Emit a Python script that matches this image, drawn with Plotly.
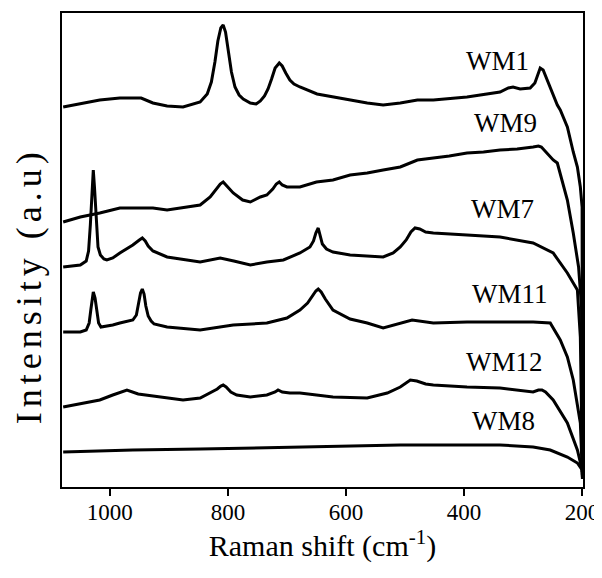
import plotly.graph_objects as go

# Raman shift (cm-1) / intensity (a.u., offset stacked)
wm1_x = [1079, 1050, 1017, 983, 947, 927, 903, 876, 847, 835, 828, 822, 817, 812, 808, 804, 799, 794,
         788, 781, 774, 762, 752, 745, 738, 732, 726, 720, 713, 708, 702, 695, 688, 678, 649, 622,
         593, 564, 537, 508, 479, 452, 395, 339, 325, 317, 305, 288, 280, 275, 271, 266, 260, 254,
         242, 237, 225, 215, 208, 203, 200, 199.5]
wm1_y = [380, 383, 387, 389, 389, 384, 381, 380, 385, 393, 405, 425, 446, 459, 462, 455, 435, 415,
         400, 392, 388, 384, 383, 386, 391, 398, 408, 419, 424, 421, 414, 407, 403, 400, 393, 390,
         387, 384, 382, 384, 387, 387, 390, 395, 399, 400, 398, 399, 404, 413, 419, 417, 408, 400,
         382, 377, 360, 335, 320, 300, 280, 15]

wm9_x = [1079, 1050, 1017, 983, 961, 927, 903, 881, 847, 830, 820, 813, 808, 803, 796, 791, 775, 762,
         745, 734, 724, 718, 713, 708, 700, 695, 678, 650, 622, 593, 564, 537, 508, 479, 452, 425,
         395, 367, 339, 310, 283, 274, 269, 264, 259, 249, 242, 225, 215, 206, 201, 199.5]
wm9_y = [265, 270, 274, 279, 279, 279, 277, 279, 282, 290, 298, 303, 305, 302, 297, 294, 287, 285,
         290, 292, 298, 303, 305, 302, 300, 300, 300, 305, 307, 312, 314, 317, 320, 327, 329, 331,
         334, 335, 337, 338, 340, 341, 340, 337, 334, 327, 324, 287, 254, 220, 180, 15]

wm7_x = [1079, 1050, 1040, 1036, 1033, 1030, 1028, 1026, 1023, 1020, 1016, 1010, 1005, 995, 983, 961,
         950, 945, 940, 935, 927, 903, 847, 813, 790, 762, 734, 706, 678, 661, 655, 651, 647, 644,
         640, 633, 622, 593, 564, 537, 520, 508, 498, 490, 483, 475, 465, 452, 395, 339, 283, 249,
         225, 208, 203, 199.5]
wm7_y = [220, 222, 226, 236, 262, 300, 317, 300, 262, 240, 232, 228, 227, 229, 234, 242,
         247, 249, 246, 241, 236, 230, 225, 229, 226, 222, 225, 227, 234, 240, 246, 254, 259, 252,
         243, 238, 235, 232, 231, 230, 234, 240, 247, 255, 259, 258, 255, 254, 252, 250, 244, 234,
         214, 197, 150, 15]

wm11_x = [1079, 1050, 1040, 1035, 1032, 1030, 1028, 1025, 1022, 1019, 1015, 995, 983, 961, 955, 951,
          948, 945, 942, 939, 935, 930, 925, 903, 847, 791, 734, 700, 678, 665, 657, 651, 647, 642,
          635, 622, 593, 564, 537, 508, 488, 452, 395, 339, 283, 254, 237, 225, 215, 203, 199.5]
wm11_y = [155, 155, 157, 164, 178, 190, 195, 189, 174, 164, 160, 162, 164, 167, 172, 183,
          194, 198, 193, 181, 171, 166, 163, 160, 157, 162, 164, 169, 177, 184, 191, 196, 198, 195,
          188, 177, 168, 164, 159, 164, 167, 164, 165, 165, 165, 164, 147, 130, 107, 64, 12]

wm12_x = [1079, 1050, 1017, 995, 971, 952, 903, 876, 847, 830, 818, 812, 808, 803, 795, 785, 762, 734,
          720, 715, 708, 695, 678, 622, 564, 530, 508, 491, 480, 465, 452, 395, 339, 283, 274, 268,
          262, 249, 225, 208, 200, 199.5]
wm12_y = [80, 83, 87, 92, 97, 93, 89, 87, 89, 94, 98, 101, 102, 100, 95, 92, 90, 92,
          95, 97, 95, 94, 94, 90, 89, 94, 100, 107, 106, 103, 102, 100, 99, 95, 97, 97,
          95, 87, 64, 37, 17, 10]

wm8_x = [1079, 961, 847, 678, 508, 339, 283, 254, 225, 208, 200, 199.5]
wm8_y = [35, 37, 38, 40, 42, 42, 40, 37, 30, 24, 17, 8]

series = [("WM1", wm1_x, wm1_y), ("WM9", wm9_x, wm9_y), ("WM7", wm7_x, wm7_y),
          ("WM11", wm11_x, wm11_y), ("WM12", wm12_x, wm12_y), ("WM8", wm8_x, wm8_y)]

# label anchor points (cm-1, a.u.)
label_x = [344, 330, 335, 322, 332, 333]
label_y = [426, 364, 278, 193, 125, 66]

serif = "Times New Roman, Liberation Serif, serif"

fig = go.Figure()
for name, xs, ys in series:
    fig.add_trace(go.Scatter(x=xs, y=ys, mode="lines", name=name,
                             line=dict(color="black", width=3), showlegend=False))

for (name, _, _), lx, ly in zip(series, label_x, label_y):
    fig.add_annotation(x=lx, y=ly, text=name, showarrow=False,
                       font=dict(family=serif, size=27, color="black"))

# y title sits lower than the axis middle in the original, so place it by hand
fig.add_annotation(xref="paper", yref="paper", x=-0.063, y=0.424, textangle=-90,
                   text='<span style="letter-spacing:5px">Intensity (a.u)</span>',
                   showarrow=False, xanchor="center", yanchor="middle",
                   font=dict(family=serif, size=36, color="black"))

# page body has an 8px margin, so the figure is 8px smaller than the window
fig.update_layout(
    width=594, height=570,
    margin=dict(l=54, r=19, t=5, b=91),
    paper_bgcolor="white", plot_bgcolor="white",
    font=dict(family=serif, color="black"),
)
fig.update_xaxes(
    range=[1081, 198.5], tickvals=[1000, 800, 600, 400, 200], automargin=False,
    ticks="outside", ticklen=7, tickwidth=2, tickcolor="black", ticklabelstandoff=-4,
    tickfont=dict(family=serif, size=23), showgrid=False, zeroline=False,
    showline=True, linewidth=2, linecolor="black", mirror=True,
    title=dict(text="Raman shift (cm<sup>-1</sup>)", font=dict(family=serif, size=30), standoff=10),
)
fig.update_yaxes(
    range=[0, 474], showticklabels=False, ticks="", showgrid=False, zeroline=False,
    showline=True, linewidth=2, linecolor="black", mirror=True, automargin=False,
)

fig.write_html("out.html")
